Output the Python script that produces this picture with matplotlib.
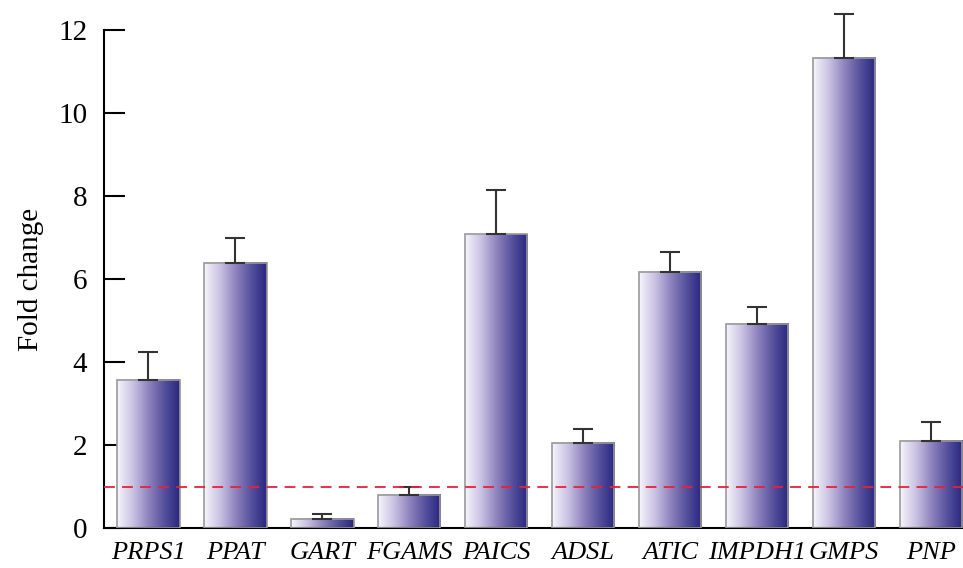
import matplotlib.pyplot as plt
import numpy as np
from matplotlib.colors import LinearSegmentedColormap

plt.rcParams['font.family'] = ['Liberation Serif', 'DejaVu Serif']

genes = ['PRPS1', 'PPAT', 'GART', 'FGAMS', 'PAICS', 'ADSL', 'ATIC', 'IMPDH1', 'GMPS', 'PNP']
fold = [3.57, 6.39, 0.22, 0.80, 7.08, 2.05, 6.17, 4.92, 11.33, 2.10]
err = [0.67, 0.60, 0.11, 0.20, 1.06, 0.34, 0.48, 0.41, 1.06, 0.45]
ref_line = 1.0

cmap = LinearSegmentedColormap.from_list('grad', ['#f6f5fb', '#cac3e3', '#8f84be', '#57519d', '#27267f'])
grad = np.linspace(0, 1, 256).reshape(1, -1)

fig = plt.figure(figsize=(9.63, 5.68), dpi=100)
ax = fig.add_axes([0.108, 0.0704, 0.892, 0.8768])

x = np.arange(len(genes))
w = 0.72
for xi, v in zip(x, fold):
    ax.imshow(grad, cmap=cmap, extent=[xi - w / 2, xi + w / 2, 0, v],
              aspect='auto', zorder=2, interpolation='bicubic')
ax.bar(x, fold, width=w, facecolor='none', edgecolor='#999999', linewidth=1.2, zorder=3)
eb = ax.errorbar(x, fold, yerr=[np.zeros(len(err)), err], fmt='none', ecolor='#333333',
                 elinewidth=1.5, capsize=7.5, capthick=1.5, zorder=4)
for art in eb.lines[1] + eb.lines[2]:
    art.set_clip_on(False)
ax.axhline(ref_line, color='#e8203c', linestyle=(0, (6, 4)), linewidth=1.3, zorder=5)

ax.set_xlim(-0.51, 9.37)
ax.set_ylim(0, 12)
ax.set_yticks([0, 2, 4, 6, 8, 10, 12])
ax.set_xticks(x)
ax.set_xticklabels(genes, style='italic', fontsize=19)
ax.tick_params(axis='y', direction='in', length=15, width=1.5, labelsize=21, pad=12)
ax.tick_params(axis='x', length=0, pad=10)
ax.spines['top'].set_visible(False)
ax.spines['right'].set_visible(False)
ax.spines['left'].set_linewidth(1.5)
ax.spines['bottom'].set_linewidth(1.5)
ax.set_ylabel('Fold change', fontsize=21, labelpad=10)

fig.savefig('out.png', dpi=100)
